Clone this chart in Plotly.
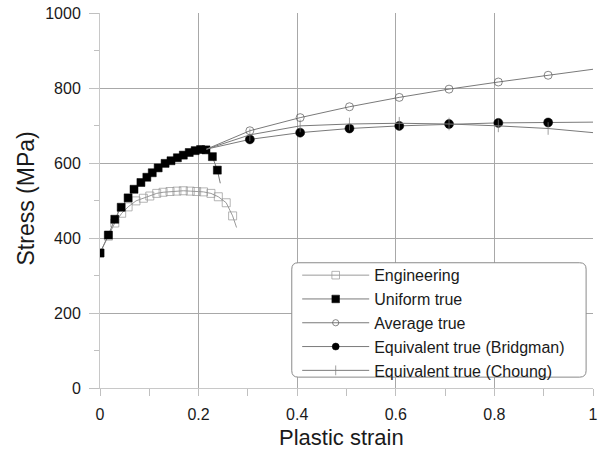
import plotly.graph_objects as go

# ---------------- data ----------------
eng_strain = [0.0, 0.017, 0.030, 0.044, 0.057, 0.073, 0.088, 0.101, 0.115, 0.128, 0.142,
              0.156, 0.169, 0.183, 0.196, 0.210, 0.225, 0.240, 0.256, 0.269, 0.277]
eng_stress = [360, 405, 440, 466, 483, 499, 506, 512, 519, 522, 524,
              525, 526, 525, 524, 523, 519, 510, 494, 459, 428]

uni_strain = [0.0, 0.017, 0.030, 0.043, 0.057, 0.069, 0.083, 0.095, 0.106, 0.118, 0.132,
              0.144, 0.157, 0.169, 0.181, 0.193, 0.204, 0.215, 0.228, 0.238, 0.244]
uni_stress = [360, 408, 450, 482, 507, 530, 548, 562, 574, 587, 599,
              606, 614, 621, 628, 633, 636, 635, 617, 581, 546]

post_strain = [0.216, 0.304, 0.406, 0.506, 0.607, 0.708, 0.808, 0.909, 1.0]
avg_stress = [637, 686, 721, 750, 775, 797, 816, 834, 850]
bridg_stress = [637, 663, 681, 692, 699, 704, 707, 708, 709]
choung_stress = [637, 675, 699, 704, 706, 704, 699, 692, 681]

x_ticks = [0, 0.2, 0.4, 0.6, 0.8, 1]
x_ticklabels = ["0", "0.2", "0.4", "0.6", "0.8", "1"]
y_ticks = [0, 200, 400, 600, 800, 1000]

x_title = "Plastic strain"
y_title = "Stress (MPa)"

# ---------------- style ----------------
FONT = "Liberation Sans, Arial, sans-serif"
LINE = "#7a7a7a"
MS = 8
W, H = 605, 452
ML, MR, MT, MB = 100, 12, 13, 64


def sizes_no_last(n, s):
    return [s] * (n - 1) + [0]


def sizes_no_first_last(n, s):
    return [0] + [s] * (n - 2) + [0]


fig = go.Figure()

fig.add_trace(go.Scatter(
    x=eng_strain, y=eng_stress, mode="lines+markers", name="Engineering",
    line=dict(color="#9a9a9a", width=1),
    marker=dict(symbol="square-open", size=sizes_no_last(len(eng_strain), MS),
                color="#959595", line=dict(width=1, color="#959595")),
))
fig.add_trace(go.Scatter(
    x=uni_strain, y=uni_stress, mode="lines+markers", name="Uniform true",
    line=dict(color=LINE, width=1),
    marker=dict(symbol="square", size=sizes_no_last(len(uni_strain), MS), color="black",
                opacity=1, line=dict(width=0.5, color="black")),
))
fig.add_trace(go.Scatter(
    x=post_strain, y=avg_stress, mode="lines+markers", name="Average true",
    line=dict(color=LINE, width=1),
    marker=dict(symbol="circle-open", size=sizes_no_first_last(len(post_strain), MS),
                color="#555555", line=dict(width=1, color="#555555")),
))
fig.add_trace(go.Scatter(
    x=post_strain, y=bridg_stress, mode="lines+markers", name="Equivalent true (Bridgman)",
    line=dict(color=LINE, width=1),
    marker=dict(symbol="circle", size=sizes_no_first_last(len(post_strain), MS + 1), color="black",
                opacity=1, line=dict(width=0.5, color="black")),
))
fig.add_trace(go.Scatter(
    x=post_strain, y=choung_stress, mode="lines+markers", name="Equivalent true (Choung)",
    line=dict(color=LINE, width=1),
    marker=dict(symbol="line-ns", size=sizes_no_first_last(len(post_strain), 9),
                color=LINE, line=dict(width=1, color=LINE)),
))

# rounded legend box (paper coordinates)
x0, x1, y0, y1 = 0.389, 0.986, 0.029, 0.334
rx, ry = 0.013, 0.017
path = (f"M {x0+rx},{y0} L {x1-rx},{y0} Q {x1},{y0} {x1},{y0+ry} "
        f"L {x1},{y1-ry} Q {x1},{y1} {x1-rx},{y1} "
        f"L {x0+rx},{y1} Q {x0},{y1} {x0},{y1-ry} "
        f"L {x0},{y0+ry} Q {x0},{y0} {x0+rx},{y0} Z")

pw, ph = W - ML - MR, H - MT - MB

fig.update_layout(
    width=W, height=H,
    margin=dict(l=ML, r=MR, t=MT, b=MB),
    paper_bgcolor="white", plot_bgcolor="white",
    font=dict(family=FONT, size=16, color="#1a1a1a"),
    showlegend=True,
    legend=dict(
        x=0.40, y=0.346, xanchor="left", yanchor="top",
        bgcolor="rgba(0,0,0,0)", borderwidth=0,
        font=dict(family=FONT, size=16, color="#1a1a1a"),
        itemwidth=67, tracegroupgap=0,
    ),
    shapes=[dict(type="path", path=path, xref="paper", yref="paper",
                 fillcolor="white", line=dict(color="#8a8a8a", width=1), layer="above")],
    annotations=[
        dict(text=x_title, xref="paper", yref="paper",
             x=(341.5 - ML) / pw, y=-(437 - (MT + ph)) / ph, xanchor="center", yanchor="middle",
             showarrow=False, font=dict(size=22, family=FONT, color="#1a1a1a")),
        dict(text=y_title, xref="paper", yref="paper", textangle=-90,
             x=-(ML - 25) / pw, y=(MT + ph - 198.5) / ph, xanchor="center", yanchor="middle",
             showarrow=False, font=dict(size=23, family=FONT, color="#1a1a1a")),
    ],
    xaxis=dict(
        range=[0, 1], tickvals=x_ticks, ticktext=x_ticklabels, automargin=False,
        showgrid=True, gridcolor="#a8a8a8", gridwidth=1,
        showline=True, linecolor="#c8c8c8", linewidth=1,
        ticks="outside", ticklen=7, tickcolor="#c0c0c0",
        minor=dict(dtick=0.1, ticks="outside", ticklen=7, tickcolor="#c0c0c0", showgrid=False),
        zeroline=False, ticklabelstandoff=5,
        tickfont=dict(size=16),
    ),
    yaxis=dict(
        range=[0, 1000], tickvals=y_ticks, automargin=False,
        showgrid=True, gridcolor="#a8a8a8", gridwidth=1,
        showline=True, linecolor="#c8c8c8", linewidth=1,
        ticks="outside", ticklen=10, tickcolor="#c0c0c0",
        minor=dict(dtick=100, ticks="outside", ticklen=5, tickcolor="#c0c0c0", showgrid=False),
        zeroline=False, ticklabelstandoff=5,
        tickfont=dict(size=16),
    ),
)

fig.write_html("out.html")
